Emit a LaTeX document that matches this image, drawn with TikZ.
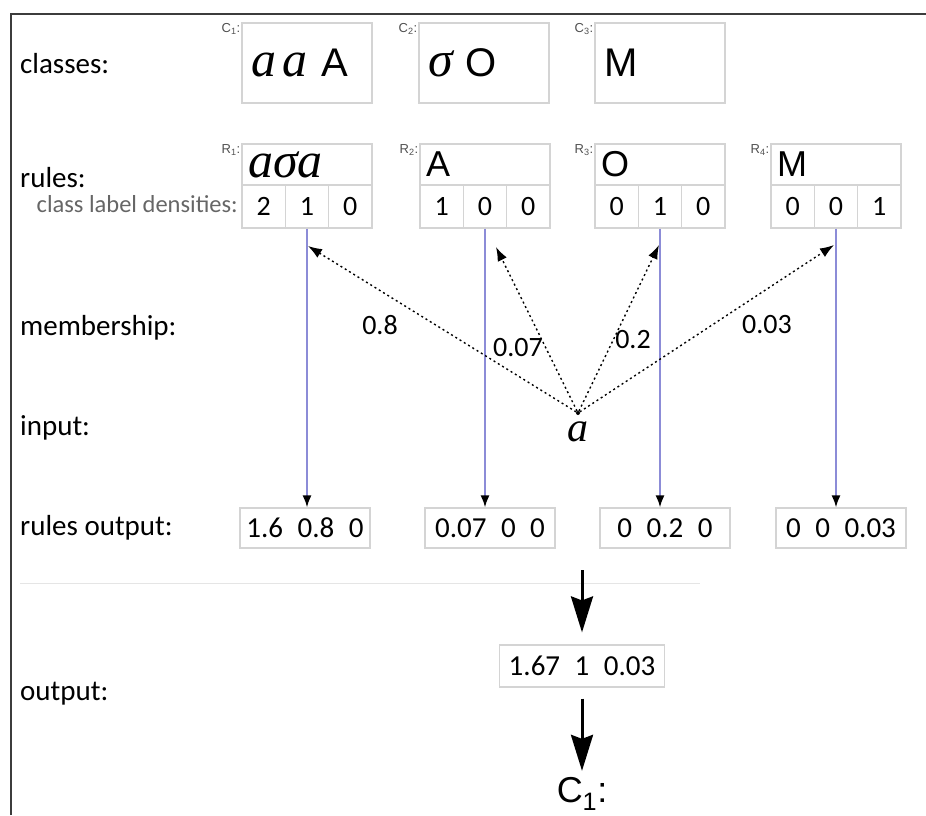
\documentclass[tikz,border=0pt]{standalone}
\usepackage{fontspec}
\setmainfont{Carlito}
\newfontfamily\lettfont{Liberation Sans}
\newfontfamily\handfont{Liberation Serif}
\usetikzlibrary{arrows.meta}
\definecolor{boxgray}{RGB}{212,212,212}
\definecolor{flowblue}{RGB}{140,140,215}
\definecolor{framegray}{RGB}{60,60,60}
\definecolor{tagtext}{RGB}{80,80,80}
\newcommand{\hw}[1]{{\fontsize{50}{44}\selectfont\handfont\itshape #1}}
\tikzset{
  rowlabel/.style={anchor=base west, inner sep=0pt, font=\fontsize{29}{34}\selectfont},
  denslabel/.style={anchor=base east, inner sep=0pt, text=black!60, font=\fontsize{24.5}{28}\selectfont},
  classbox/.style={draw=boxgray, line width=1.2pt, minimum height=80pt, text width=112pt, inner xsep=9pt, align=left, font=\fontsize{40}{44}\selectfont\lettfont},
  rulebox/.style={draw=boxgray, line width=1.2pt, minimum height=41pt, text width=118pt, inner xsep=6pt, inner ysep=0pt, align=left, font=\fontsize{36}{40}\selectfont\lettfont},
  cellbox/.style={draw=boxgray, line width=1.2pt, minimum width=43.3pt, minimum height=43pt, inner sep=0pt, font=\fontsize{28}{32}\selectfont},
  tagnode/.style={anchor=north east, inner sep=1pt, text=tagtext, font=\fontsize{13}{14}\selectfont\lettfont},
  outbox/.style={draw=boxgray, line width=1.2pt, minimum width=130pt, minimum height=40pt, inner sep=3pt, font=\fontsize{29}{34}\selectfont},
  weightlabel/.style={inner sep=1pt, font=\fontsize{28}{32}\selectfont},
  flowarrow/.style={-{Latex[length=12pt,width=9pt,black]}, line width=1.8pt, flowblue},
  memarrow/.style={-{Latex[length=14pt,width=10pt]}, line width=1.4pt, dash pattern=on 2pt off 3pt},
  bigarrow/.style={-{Stealth[length=36pt,width=22pt,inset=4pt]}, line width=3pt}
}
\begin{document}
\begin{tikzpicture}[x=1pt, y=-1pt]
  \useasboundingbox (0,0) rectangle (926,815);
  % frame
  \draw[framegray, line width=2pt] (11,815) -- (11,14) -- (926,14);
  \draw[black!10, line width=1pt] (20,583) -- (700,583);

  % row labels
  \node[rowlabel] (lclasses) at (20,73) {classes:};
  \node[rowlabel] (lrules) at (20,187) {rules:};
  \node[denslabel] (ldens) at (238,212) {class label densities:};
  \node[rowlabel] (lmember) at (20,335) {membership:};
  \node[rowlabel] (linput) at (20,435) {input:};
  \node[rowlabel] (lrout) at (20,535) {rules output:};
  \node[rowlabel] (lout) at (20,700) {output:};

  % classes
  \node[classbox] (c1) at (307,63) {\hw{a}\,\hw{a} A};
  \node[classbox] (c2) at (484,63) {\hw{σ} O};
  \node[classbox] (c3) at (660,63) {M};
  \node[tagnode] (c1tag) at (c1.north west) {C\textsubscript{1}:};
  \node[tagnode] (c2tag) at (c2.north west) {C\textsubscript{2}:};
  \node[tagnode] (c3tag) at (c3.north west) {C\textsubscript{3}:};

  % rules
  \node[rulebox] (r1) at (307,164.5) {\hw{aσa}};
  \node[rulebox] (r2) at (485,164.5) {A};
  \node[rulebox] (r3) at (660,164.5) {O};
  \node[rulebox] (r4) at (836,164.5) {M};
  \node[tagnode] (r1tag) at (r1.north west) {R\textsubscript{1}:};
  \node[tagnode] (r2tag) at (r2.north west) {R\textsubscript{2}:};
  \node[tagnode] (r3tag) at (r3.north west) {R\textsubscript{3}:};
  \node[tagnode] (r4tag) at (r4.north west) {R\textsubscript{4}:};

  \node[cellbox] (r1a) at (263.7,206.5) {2};
  \node[cellbox] (r1b) at (307,206.5) {1};
  \node[cellbox] (r1c) at (350.3,206.5) {0};
  \node[cellbox] (r2a) at (441.7,206.5) {1};
  \node[cellbox] (r2b) at (485,206.5) {0};
  \node[cellbox] (r2c) at (528.3,206.5) {0};
  \node[cellbox] (r3a) at (616.7,206.5) {0};
  \node[cellbox] (r3b) at (660,206.5) {1};
  \node[cellbox] (r3c) at (703.3,206.5) {0};
  \node[cellbox] (r4a) at (792.7,206.5) {0};
  \node[cellbox] (r4b) at (836,206.5) {0};
  \node[cellbox] (r4c) at (879.3,206.5) {1};

  % rules output
  \node[outbox] (o1) at (305,528) {1.6\enspace0.8\enspace0};
  \node[outbox] (o2) at (490,528) {0.07\enspace0\enspace0};
  \node[outbox] (o3) at (665,528) {0\enspace0.2\enspace0};
  \node[outbox] (o4) at (841,528) {0\enspace0\enspace0.03};

  \draw[flowarrow] (r1b.south) -- (r1b.south |- o1.north);
  \draw[flowarrow] (r2b.south) -- (r2b.south |- o2.north);
  \draw[flowarrow] (r3b.south) -- (r3b.south |- o3.north);
  \draw[flowarrow] (r4b.south) -- (r4b.south |- o4.north);

  % input and membership
  \node[circle, fill, inner sep=0pt, minimum size=4pt] (inp) at (578,413) {};
  \node[inner sep=0pt, font=\fontsize{42}{44}\selectfont\handfont\itshape] (inch) at (578,432) {a};
  \coordinate (m1) at (308,246);
  \coordinate (m2) at (496,247);
  \coordinate (m3) at (659,245);
  \coordinate (m4) at (834,245);
  \draw[memarrow] (inp) -- (m1);
  \draw[memarrow] (inp) -- (m2);
  \draw[memarrow] (inp) -- (m3);
  \draw[memarrow] (inp) -- (m4);
  \node[weightlabel] (w1) at (380,325) {0.8};
  \node[weightlabel] (w2) at (518,348) {0.07};
  \node[weightlabel] (w3) at (633,340) {0.2};
  \node[weightlabel] (w4) at (767,325) {0.03};

  % aggregation
  \coordinate (agg) at (582,570);
  \node[outbox, minimum width=165pt, minimum height=42pt] (out) at (582,666) {1.67\enspace1\enspace0.03};
  \node[inner sep=0pt, font=\fontsize{36}{40}\selectfont\lettfont] (cls) at (582,794) {C\textsubscript{1}:};
  \draw[bigarrow] (agg) -- ([yshift=12pt]out.north);
  \draw[bigarrow] ([yshift=-11pt]out.south) -- ([yshift=6pt]cls.north);
\end{tikzpicture}
\end{document}
